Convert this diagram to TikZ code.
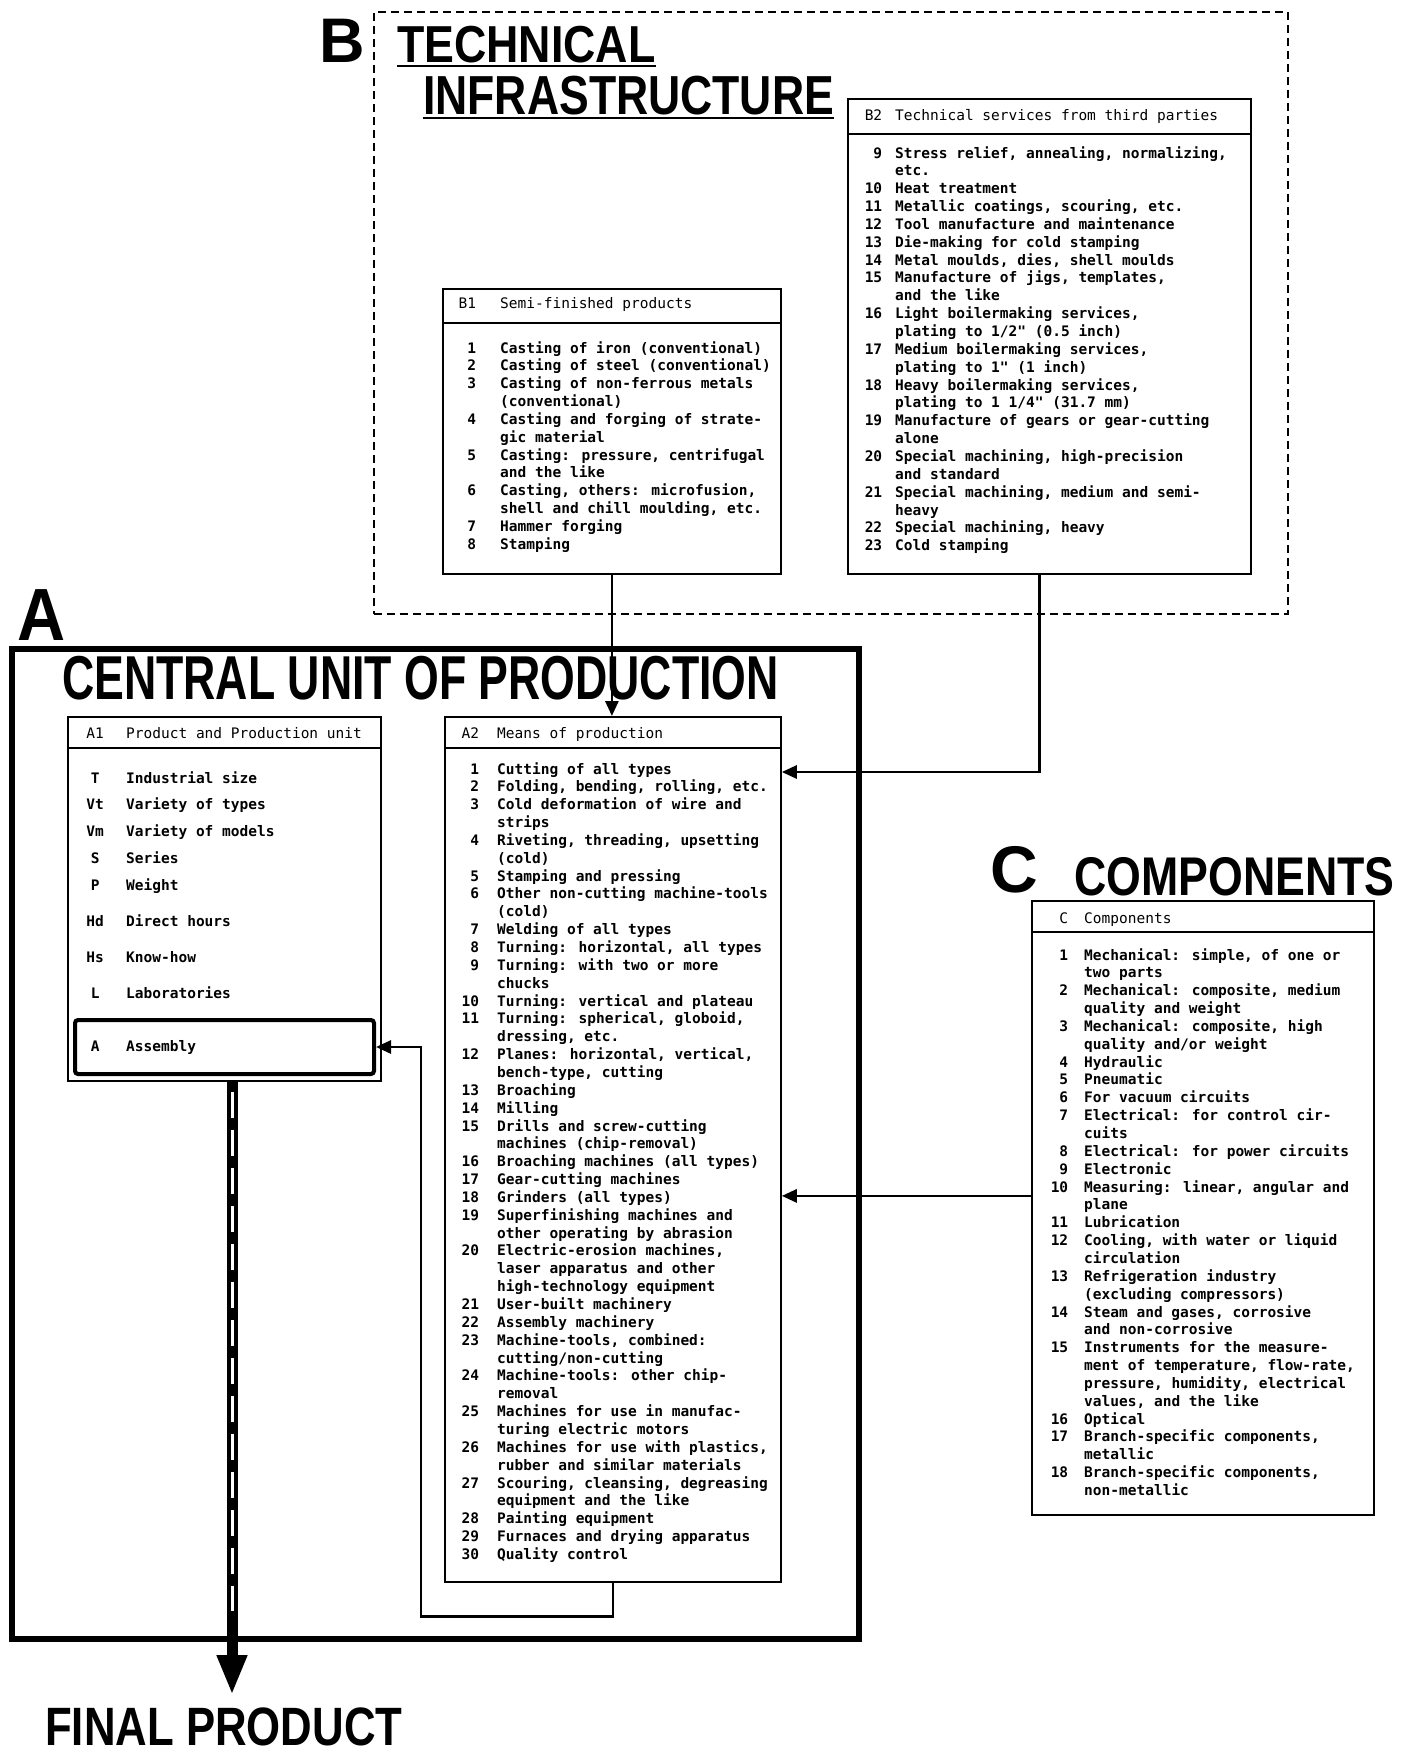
\documentclass[tikz,border=0pt]{standalone}
\usepackage{fontspec}
\usepackage{array}
\usepackage{graphicx}
\setmainfont{Liberation Sans}
\newfontfamily\listfont{DejaVu Sans Mono}
\usetikzlibrary{arrows.meta, positioning}

\newcommand{\squeeze}[2]{\scalebox{#1}[1]{#2}}
\newcolumntype{R}{>{\raggedleft\arraybackslash}p{20pt}}
\newcolumntype{M}{>{\centering\arraybackslash}p{24pt}}
\newenvironment{itemlist}[2]{\begin{tabular}[t]{@{}#1@{\hspace{#2}}l@{}}}{\end{tabular}}

\begin{document}
\begin{tikzpicture}[
    x=1pt, y=-1pt,
    title/.style={font=\bfseries, inner sep=0, anchor=base west},
    listbox/.style={draw, line width=1.8pt, inner sep=0, anchor=north west},
    infrabox/.style={draw, line width=1.6pt, dash pattern=on 8pt off 5pt, inner sep=0, anchor=north west},
    unitbox/.style={draw, line width=5.5pt, inner sep=0, anchor=north west},
    asmbox/.style={draw, line width=4pt, rounded corners=3pt, inner sep=0, anchor=north west},
    divider/.style={line width=1.8pt},
    uline/.style={line width=2pt},
    headtext/.style={font=\listfont\fontsize{14.5}{17.85}\selectfont, inner sep=0, anchor=base west},
    itemtext/.style={font=\listfont\bfseries\fontsize{14.5}{17.85}\selectfont, inner sep=0, anchor=base west},
    flow/.style={line width=2.8pt, -{Triangle[length=15pt, width=13pt]}},
    prodarrow/.style={line width=11pt, -{Triangle[length=40pt, width=28pt]}},
    proddash/.style={white, line width=3pt, dash pattern=on 26pt off 12pt}
]
    \useasboundingbox (0,0) rectangle (1410,1754);

    % B: technical infrastructure
    \node[infrabox, minimum width=914pt, minimum height=602pt] (infra) at (373,11) {};
    \node[title, font=\bfseries\fontsize{63}{63}\selectfont] (nB) at (319,62) {B};
    \node[title, font=\bfseries\fontsize{52}{52}\selectfont] (ntech) at (397,62) {\squeeze{0.86}{TECHNICAL}};
    \node[title, font=\bfseries\fontsize{55}{55}\selectfont] (ninfra) at (423,114) {\squeeze{0.81}{INFRASTRUCTURE}};
    \draw[uline] ([yshift=-4pt]ntech.base west) -- ([yshift=-4pt]ntech.base east);
    \draw[uline] ([yshift=-4pt]ninfra.base west) -- ([yshift=-4pt]ninfra.base east);

    \node[listbox, minimum width=338pt, minimum height=285pt] (b1) at (442,288) {};
    \draw[divider] ([yshift=-35pt]b1.north west) -- ([yshift=-35pt]b1.north east);
    \node[headtext] (b1head) at (456,308) {\begin{itemlist}{R}{24pt} B1 & Semi-finished products \end{itemlist}};
    \node[itemtext] (b1items) at (456,353) {\begin{itemlist}{R}{24pt}
        1 & Casting of iron (conventional)\\
        2 & Casting of steel (conventional)\\
        3 & Casting of non-ferrous metals\\
          & (conventional)\\
        4 & Casting and forging of strate-\\
          & gic material\\
        5 & Casting: pressure, centrifugal\\
          & and the like\\
        6 & Casting, others: microfusion,\\
          & shell and chill moulding, etc.\\
        7 & Hammer forging\\
        8 & Stamping
    \end{itemlist}};

    \node[listbox, minimum width=403pt, minimum height=475pt] (b2) at (847,98) {};
    \draw[divider] ([yshift=-36pt]b2.north west) -- ([yshift=-36pt]b2.north east);
    \node[headtext] (b2head) at (862,120) {\begin{itemlist}{R}{13pt} B2 & Technical services from third parties \end{itemlist}};
    \node[itemtext] (b2items) at (862,158) {\begin{itemlist}{R}{13pt}
        9 & Stress relief, annealing, normalizing,\\
          & etc.\\
        10 & Heat treatment\\
        11 & Metallic coatings, scouring, etc.\\
        12 & Tool manufacture and maintenance\\
        13 & Die-making for cold stamping\\
        14 & Metal moulds, dies, shell moulds\\
        15 & Manufacture of jigs, templates,\\
           & and the like\\
        16 & Light boilermaking services,\\
           & plating to 1/2" (0.5 inch)\\
        17 & Medium boilermaking services,\\
           & plating to 1" (1 inch)\\
        18 & Heavy boilermaking services,\\
           & plating to 1 1/4" (31.7 mm)\\
        19 & Manufacture of gears or gear-cutting\\
           & alone\\
        20 & Special machining, high-precision\\
           & and standard\\
        21 & Special machining, medium and semi-\\
           & heavy\\
        22 & Special machining, heavy\\
        23 & Cold stamping
    \end{itemlist}};

    % A: central unit of production
    \node[unitbox, minimum width=847pt, minimum height=990pt] (cu) at (9,646) {};
    \node[title, font=\bfseries\fontsize{74}{74}\selectfont] (nA) at (17,640) {\squeeze{0.9}{A}};
    \node[title, font=\bfseries\fontsize{62}{62}\selectfont] (ncentral) at (62,699) {\squeeze{0.72}{CENTRAL UNIT OF PRODUCTION}};

    \node[listbox, minimum width=313pt, minimum height=364pt] (a1) at (67,716) {};
    \draw[divider] ([yshift=-32pt]a1.north west) -- ([yshift=-32pt]a1.north east);
    \node[headtext] (a1head) at (83,738) {\begin{itemlist}{M}{19pt} A1 & Product and Production unit \end{itemlist}};
    \node[itemtext, font=\listfont\bfseries\fontsize{14.5}{26.8}\selectfont] (a1items) at (83,783) {\begin{itemlist}{M}{19pt}
        T & Industrial size\\
        Vt & Variety of types\\
        Vm & Variety of models\\
        S & Series\\
        P & Weight\\[9.2pt]
        Hd & Direct hours\\[9.2pt]
        Hs & Know-how\\[9.2pt]
        L & Laboratories
    \end{itemlist}};
    \node[asmbox, minimum width=299pt, minimum height=54pt] (asm) at (73,1018) {};
    \node[itemtext] (asmitem) at (83,1051) {\begin{itemlist}{M}{19pt} A & Assembly \end{itemlist}};

    \node[listbox, minimum width=336pt, minimum height=865pt] (a2) at (444,716) {};
    \draw[divider] ([yshift=-32pt]a2.north west) -- ([yshift=-32pt]a2.north east);
    \node[headtext] (a2head) at (459,738) {\begin{itemlist}{R}{18pt} A2 & Means of production \end{itemlist}};
    \node[itemtext] (a2items) at (459,774) {\begin{itemlist}{R}{18pt}
        1 & Cutting of all types\\
        2 & Folding, bending, rolling, etc.\\
        3 & Cold deformation of wire and\\
          & strips\\
        4 & Riveting, threading, upsetting\\
          & (cold)\\
        5 & Stamping and pressing\\
        6 & Other non-cutting machine-tools\\
          & (cold)\\
        7 & Welding of all types\\
        8 & Turning: horizontal, all types\\
        9 & Turning: with two or more\\
          & chucks\\
        10 & Turning: vertical and plateau\\
        11 & Turning: spherical, globoid,\\
           & dressing, etc.\\
        12 & Planes: horizontal, vertical,\\
           & bench-type, cutting\\
        13 & Broaching\\
        14 & Milling\\
        15 & Drills and screw-cutting\\
           & machines (chip-removal)\\
        16 & Broaching machines (all types)\\
        17 & Gear-cutting machines\\
        18 & Grinders (all types)\\
        19 & Superfinishing machines and\\
           & other operating by abrasion\\
        20 & Electric-erosion machines,\\
           & laser apparatus and other\\
           & high-technology equipment\\
        21 & User-built machinery\\
        22 & Assembly machinery\\
        23 & Machine-tools, combined:\\
           & cutting/non-cutting\\
        24 & Machine-tools: other chip-\\
           & removal\\
        25 & Machines for use in manufac-\\
           & turing electric motors\\
        26 & Machines for use with plastics,\\
           & rubber and similar materials\\
        27 & Scouring, cleansing, degreasing\\
           & equipment and the like\\
        28 & Painting equipment\\
        29 & Furnaces and drying apparatus\\
        30 & Quality control
    \end{itemlist}};

    % C: components
    \node[title, font=\bfseries\fontsize{66}{66}\selectfont] (nC) at (990,892) {C};
    \node[title, font=\bfseries\fontsize{54.5}{54.5}\selectfont] (ncomp) at (1074,895) {\squeeze{0.82}{COMPONENTS}};
    \node[listbox, minimum width=342pt, minimum height=614pt] (c) at (1031,900) {};
    \draw[divider] ([yshift=-32pt]c.north west) -- ([yshift=-32pt]c.north east);
    \node[headtext] (chead) at (1048,923) {\begin{itemlist}{R}{16pt} C & Components \end{itemlist}};
    \node[itemtext] (citems) at (1048,960) {\begin{itemlist}{R}{16pt}
        1 & Mechanical: simple, of one or\\
          & two parts\\
        2 & Mechanical: composite, medium\\
          & quality and weight\\
        3 & Mechanical: composite, high\\
          & quality and/or weight\\
        4 & Hydraulic\\
        5 & Pneumatic\\
        6 & For vacuum circuits\\
        7 & Electrical: for control cir-\\
          & cuits\\
        8 & Electrical: for power circuits\\
        9 & Electronic\\
        10 & Measuring: linear, angular and\\
           & plane\\
        11 & Lubrication\\
        12 & Cooling, with water or liquid\\
           & circulation\\
        13 & Refrigeration industry\\
           & (excluding compressors)\\
        14 & Steam and gases, corrosive\\
           & and non-corrosive\\
        15 & Instruments for the measure-\\
           & ment of temperature, flow-rate,\\
           & pressure, humidity, electrical\\
           & values, and the like\\
        16 & Optical\\
        17 & Branch-specific components,\\
           & metallic\\
        18 & Branch-specific components,\\
           & non-metallic
    \end{itemlist}};

    % connectors
    \draw[flow] (b1.south) -- (b1.south |- a2.north);
    \draw[flow] ([xshift=-10pt]b2.south) |- ([yshift=-56pt]a2.north east);
    \draw[flow] ([yshift=12pt]c.west) -- ([yshift=12pt]c.west -| a2.east);
    \draw[flow] (a2.south) -- ++(0,34) -| ([xshift=45pt]asm.east) -- (asm.east);

    % final product
    \coordinate (fpend) at (232,1695);
    \coordinate (fpstart) at (a1.south -| fpend);
    \draw[prodarrow] (fpstart) -- (fpend);
    \draw[proddash] ([yshift=-10pt]fpstart) -- ([yshift=84pt]fpend);
    \node[title, font=\bfseries\fontsize{54}{54}\selectfont] (nfinal) at (45,1745) {\squeeze{0.81}{FINAL PRODUCT}};
\end{tikzpicture}
\end{document}
